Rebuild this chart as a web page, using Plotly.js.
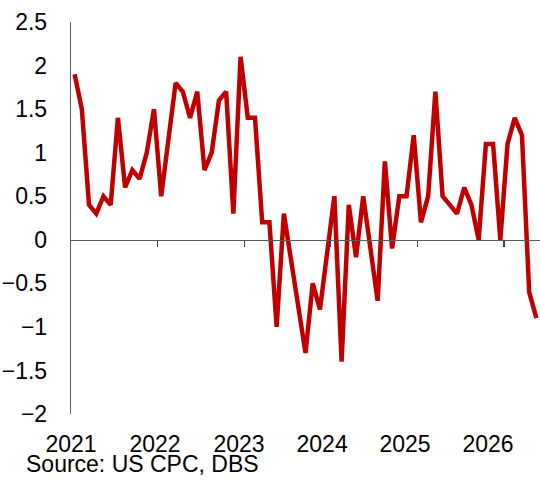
<!DOCTYPE html>
<html>
<head>
<meta charset="utf-8">
<script src="https://cdn.plot.ly/plotly-3.0.1.min.js"></script>
<style>html,body{margin:0;padding:0;background:#fff;}#chart{width:540px;height:480px;}</style>
</head>
<body>
<div id="chart"></div>
<script>
// Monthly values, Jan 2021 – May 2026
const months = [
  "2021-01","2021-02","2021-03","2021-04","2021-05","2021-06","2021-07","2021-08","2021-09","2021-10","2021-11","2021-12",
  "2022-01","2022-02","2022-03","2022-04","2022-05","2022-06","2022-07","2022-08","2022-09","2022-10","2022-11","2022-12",
  "2023-01","2023-02","2023-03","2023-04","2023-05","2023-06","2023-07","2023-08","2023-09","2023-10","2023-11","2023-12",
  "2024-01","2024-02","2024-03","2024-04","2024-05","2024-06","2024-07","2024-08","2024-09","2024-10","2024-11","2024-12",
  "2025-01","2025-02","2025-03","2025-04","2025-05","2025-06","2025-07","2025-08","2025-09","2025-10","2025-11","2025-12",
  "2026-01","2026-02","2026-03","2026-04","2026-05"
];
const values = [
  1.9, 1.5, 0.4, 0.3, 0.5, 0.4, 1.4, 0.6, 0.8, 0.7, 1.0, 1.5,
  0.5, 1.15, 1.8, 1.7, 1.4, 1.7, 0.8, 1.0, 1.6, 1.7, 0.3, 2.1,
  1.4, 1.4, 0.2, 0.2, -1.0, 0.3, -0.25, -0.75, -1.3, -0.5, -0.8, -0.15,
  0.5, -1.4, 0.4, -0.2, 0.5, -0.1, -0.7, 0.9, -0.1, 0.5, 0.5, 1.2,
  0.2, 0.5, 1.7, 0.5, 0.4, 0.3, 0.6, 0.4, 0.0, 1.1, 1.1, 0.0,
  1.1, 1.4, 1.2, -0.6, -0.9
];
const yearLabels = ["2021","2022","2023","2024","2025","2026"];
const yTickVals = [-2, -1.5, -1, -0.5, 0, 0.5, 1, 1.5, 2, 2.5];

const xIdx = months.map((m, i) => i);

const trace = {
  x: xIdx,
  y: values,
  text: months,
  type: 'scatter',
  mode: 'lines',
  line: {color: '#C00000', width: 4.5},
  hoverinfo: 'text+y'
};

const font = {family: 'Liberation Sans, Arial, sans-serif', size: 23, color: '#000'};
const xRange = [-0.5, 64.5];

const layout = {
  width: 540, height: 480,
  margin: {l: 71, r: 0, t: 22, b: 66, pad: 0},
  paper_bgcolor: '#fff', plot_bgcolor: '#fff',
  showlegend: false,
  font: font,
  xaxis: {
    range: xRange, fixedrange: true,
    showgrid: false, zeroline: false, showline: false,
    ticks: '',
    tickmode: 'array',
    tickvals: [-0.5, 11.14, 22.78, 34.3, 45.8, 57.3],
    ticktext: yearLabels,
    tickfont: font,
    ticklabelstandoff: 14
  },
  xaxis2: {
    overlaying: 'x', matches: 'x', anchor: 'free', position: 2 / 4.5,
    range: xRange,
    showgrid: false, zeroline: false,
    showline: true, linecolor: '#595959', linewidth: 1.5,
    ticks: 'outside', ticklen: 6, tickwidth: 1.25, tickcolor: '#404040',
    tickmode: 'array', tickvals: [11.5, 23.5, 35.5, 47.5, 59.5],
    showticklabels: false
  },
  yaxis: {
    range: [-2, 2.5], fixedrange: true,
    showgrid: false, zeroline: false,
    showline: true, linecolor: '#595959', linewidth: 1.25,
    ticks: '',
    tickmode: 'array', tickvals: yTickVals,
    tickfont: font,
    ticklabelstandoff: 18
  },
  annotations: [{
    text: 'Source: US CPC, DBS',
    xref: 'paper', yref: 'paper',
    x: -47 / 469, y: -50 / 392,
    xanchor: 'left', yanchor: 'middle',
    showarrow: false,
    font: font
  }]
};

// invisible copy on x2 so the overlay axis (line at zero with year ticks) is drawn
const trace2 = Object.assign({}, trace, {xaxis: 'x2', line: {color: 'rgba(0,0,0,0)', width: 0}, hoverinfo: 'skip'});

Plotly.newPlot('chart', [trace2, trace], layout, {staticPlot: true, displayModeBar: false});
</script>
</body>
</html>
